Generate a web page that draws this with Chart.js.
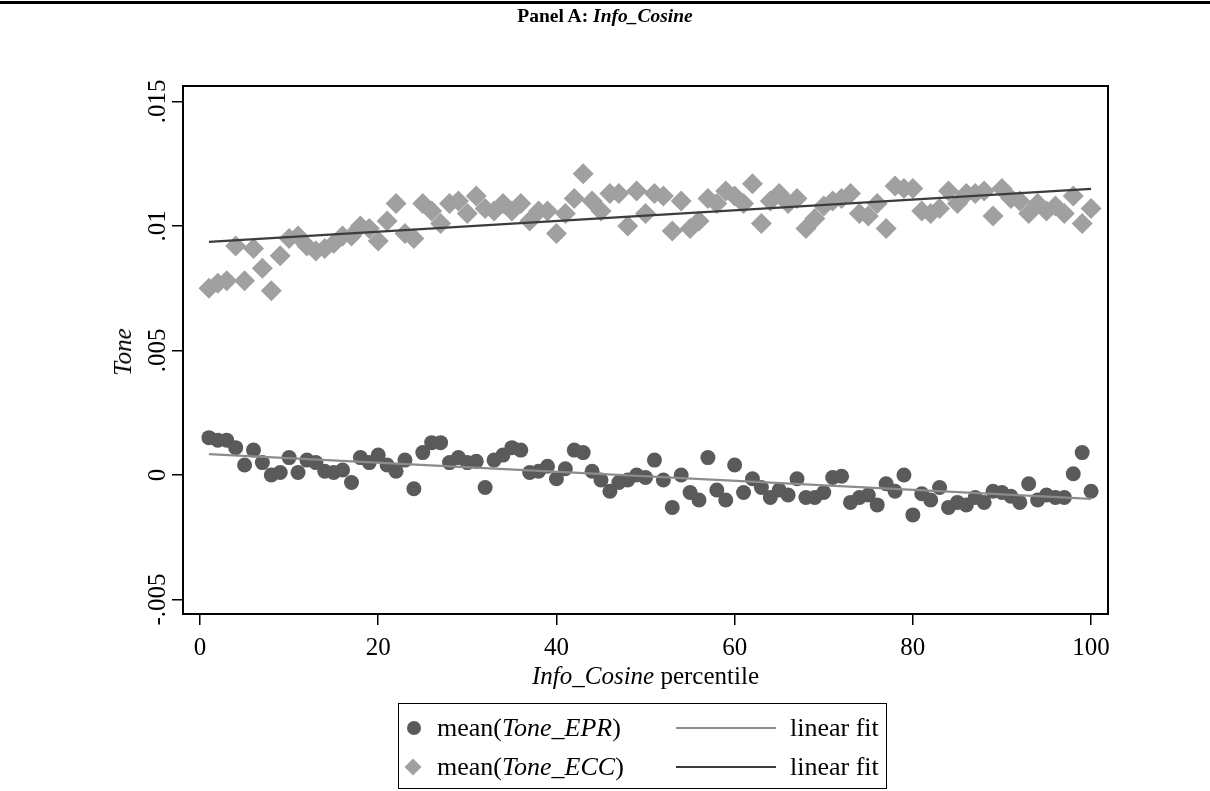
<!DOCTYPE html>
<html>
<head>
<meta charset="utf-8">
<script src="https://cdn.jsdelivr.net/npm/chart.js@4.4.1/dist/chart.umd.min.js"></script>
<style>
  html,body{margin:0;padding:0;background:#fff;}
  #wrap{position:relative;width:1210px;height:791px;overflow:hidden;font-family:"Liberation Serif","DejaVu Serif",serif;color:#000;}
  #c{position:absolute;left:0;top:0;}
  .topline{position:absolute;left:0;top:1px;width:1210px;height:3px;background:#000;}
  .title{position:absolute;left:0;width:1210px;top:5px;text-align:center;font-weight:bold;font-size:19.5px;}
  .xtitle{position:absolute;left:183px;width:925px;top:661px;text-align:center;font-size:25px;line-height:30px;}
  .ytitle{position:absolute;left:123px;top:352px;font-size:25px;font-style:italic;transform:translate(-50%,-50%) rotate(-90deg);white-space:nowrap;}
  .legend{position:absolute;left:398px;top:703px;width:487px;height:84px;border:1px solid #000;}
  .row{position:absolute;left:0;height:32px;width:100%;font-size:26px;line-height:32px;}
  .mk{position:absolute;}
  .txt{position:absolute;left:38px;top:0;white-space:nowrap;}
  .ln{position:absolute;left:277px;width:100px;height:2px;top:15px;}
  .fit{position:absolute;left:391px;top:0;white-space:nowrap;}
</style>
</head>
<body>
<div id="wrap">
  <canvas id="c" width="1210" height="791"></canvas>
  <div class="topline"></div>
  <div class="title">Panel A: <i>Info_Cosine</i></div>
  <div class="ytitle">Tone</div>
  <div class="xtitle"><i>Info_Cosine</i> percentile</div>
  <div class="legend">
    <div class="row" style="top:8px;">
      <div class="mk" style="left:8px;top:9px;width:14px;height:14px;border-radius:50%;background:#5a5a5a;"></div>
      <div class="txt">mean(<i>Tone_EPR</i>)</div>
      <div class="ln" style="background:#8c8c8c;"></div>
      <div class="fit">linear fit</div>
    </div>
    <div class="row" style="top:47px;">
      <div class="mk" style="left:8px;top:10px;width:12px;height:12px;background:#a0a0a0;transform:rotate(45deg);"></div>
      <div class="txt">mean(<i>Tone_ECC</i>)</div>
      <div class="ln" style="background:#3c3c3c;"></div>
      <div class="fit">linear fit</div>
    </div>
  </div>
</div>
<script>
// ---- data ----
const percentile = [1,2,3,4,5,6,7,8,9,10,11,12,13,14,15,16,17,18,19,20,
  21,22,23,24,25,26,27,28,29,30,31,32,33,34,35,36,37,38,39,40,
  41,42,43,44,45,46,47,48,49,50,51,52,53,54,55,56,57,58,59,60,
  61,62,63,64,65,66,67,68,69,70,71,72,73,74,75,76,77,78,79,80,
  81,82,83,84,85,86,87,88,89,90,91,92,93,94,95,96,97,98,99,100];

const toneECC = [0.0075,0.0077,0.0078,0.0092,0.0078,0.0091,0.0083,0.0074,0.0088,0.0095,
  0.0096,0.0092,0.0090,0.0091,0.0093,0.0096,0.0096,0.0100,0.0099,0.0094,
  0.0102,0.0109,0.0097,0.0095,0.0109,0.0106,0.0101,0.0109,0.0110,0.0105,
  0.0112,0.0107,0.0106,0.0109,0.0106,0.0109,0.0102,0.0106,0.0106,0.0097,
  0.0105,0.0111,0.0121,0.0110,0.0106,0.0113,0.0113,0.0100,0.0114,0.0105,
  0.0113,0.0112,0.0098,0.0110,0.0099,0.0102,0.0111,0.0109,0.0114,0.0112,
  0.0109,0.0117,0.0101,0.0110,0.0113,0.0109,0.0111,0.0099,0.0103,0.0108,
  0.0110,0.0111,0.0113,0.0105,0.0104,0.0109,0.0099,0.0116,0.0115,0.0115,
  0.0106,0.0105,0.0107,0.0114,0.0109,0.0113,0.0113,0.0114,0.0104,0.0115,
  0.0111,0.0110,0.0105,0.0109,0.0106,0.0108,0.0105,0.0112,0.0101,0.0107];

const toneEPR = [0.0015,0.0014,0.0014,0.0011,0.0004,0.0010,0.0005,0.0000,0.0001,0.0007,
  0.0001,0.0006,0.0005,0.00015,0.0001,0.0002,-0.0003,0.0007,0.0005,0.0008,
  0.0004,0.00015,0.0006,-0.00055,0.0009,0.0013,0.0013,0.0005,0.0007,0.0005,
  0.00055,-0.0005,0.0006,0.0008,0.0011,0.0010,0.0001,0.00015,0.00035,-0.00015,
  0.00025,0.0010,0.0009,0.00015,-0.0002,-0.00065,-0.0003,-0.0002,0.0000,-0.0001,
  0.0006,-0.0002,-0.0013,0.0000,-0.0007,-0.0010,0.0007,-0.0006,-0.0010,0.0004,
  -0.0007,-0.00015,-0.0005,-0.0009,-0.0006,-0.0008,-0.00015,-0.0009,-0.0009,-0.0007,
  -0.0001,-0.00005,-0.0011,-0.0009,-0.0008,-0.0012,-0.00035,-0.00065,0.0000,-0.0016,
  -0.00075,-0.0010,-0.0005,-0.0013,-0.0011,-0.0012,-0.0009,-0.0011,-0.00065,-0.0007,
  -0.00085,-0.0011,-0.00035,-0.0010,-0.0008,-0.0009,-0.0009,0.00005,0.0009,-0.00065];

// linear fit endpoints
const fitX = [1, 100];
const fitEPR = [0.00084, -0.00096];
const fitECC = [0.00936, 0.01149];

const xTicks = [0, 20, 40, 60, 80, 100];
const yTicks = [-0.005, 0, 0.005, 0.01, 0.015];
const yTickLabels = ['-.005', '0', '.005', '.01', '.015'];

// ---- build ----
const pts = (xs, ys) => xs.map((x, i) => ({x: x, y: ys[i]}));
const FONT = '"Liberation Serif", "DejaVu Serif", serif';

const frame = {
  id: 'frame',
  afterDraw(chart) {
    const {ctx, chartArea: a, scales} = chart;
    ctx.save();
    ctx.strokeStyle = '#000';
    ctx.lineWidth = 2;
    ctx.strokeRect(a.left, a.top, a.right - a.left, a.bottom - a.top);
    // rotated y tick labels
    const ys = scales.y;
    ctx.fillStyle = '#000';
    ctx.font = '25px ' + FONT;
    ctx.textAlign = 'center';
    ctx.textBaseline = 'middle';
    ys.ticks.forEach((t) => {
      const py = ys.getPixelForValue(t.value);
      ctx.save();
      ctx.translate(a.left - 25, py);
      ctx.rotate(-Math.PI / 2);
      ctx.fillText(yTickLabels[yTicks.indexOf(t.value)], 0, 0);
      ctx.restore();
    });
    ctx.restore();
  }
};

new Chart(document.getElementById('c'), {
  type: 'scatter',
  data: {
    datasets: [
      {label: 'linear fit EPR', data: pts(fitX, fitEPR), showLine: true, pointRadius: 0,
       borderColor: '#8c8c8c', borderWidth: 2.2, order: 1},
      {label: 'linear fit ECC', data: pts(fitX, fitECC), showLine: true, pointRadius: 0,
       borderColor: '#3c3c3c', borderWidth: 2.2, order: 1},
      {label: 'mean(Tone_EPR)', data: pts(percentile, toneEPR), pointStyle: 'circle',
       pointRadius: 7.5, backgroundColor: '#5a5a5a', borderWidth: 0, order: 2},
      {label: 'mean(Tone_ECC)', data: pts(percentile, toneECC), pointStyle: 'rectRot',
       pointRadius: 10.5, backgroundColor: '#a0a0a0', borderWidth: 0, order: 2}
    ]
  },
  options: {
    responsive: false,
    animation: false,
    devicePixelRatio: 1,
    layout: {padding: {left: 0, top: 86, right: 102, bottom: 0}},
    plugins: {legend: {display: false}, title: {display: false}, tooltip: {enabled: false}},
    scales: {
      x: {
        type: 'linear', min: -1.91, max: 101.9,
        afterBuildTicks: s => { s.ticks = xTicks.map(v => ({value: v})); },
        afterFit: s => { s.height = 177; },
        grid: {display: true, drawOnChartArea: false, drawTicks: true, tickLength: 11, color: '#000', lineWidth: 1.5},
        border: {display: false},
        ticks: {font: {family: FONT, size: 25}, color: '#000', padding: 8, maxRotation: 0,
                callback: v => String(v)}
      },
      y: {
        type: 'linear', min: -0.00558, max: 0.01562,
        afterBuildTicks: s => { s.ticks = yTicks.map(v => ({value: v})); },
        afterFit: s => { s.width = 183; },
        grid: {display: true, drawOnChartArea: false, drawTicks: true, tickLength: 11, color: '#000', lineWidth: 1.5},
        border: {display: false},
        ticks: {display: false}
      }
    }
  },
  plugins: [frame]
});
</script>
</body>
</html>
